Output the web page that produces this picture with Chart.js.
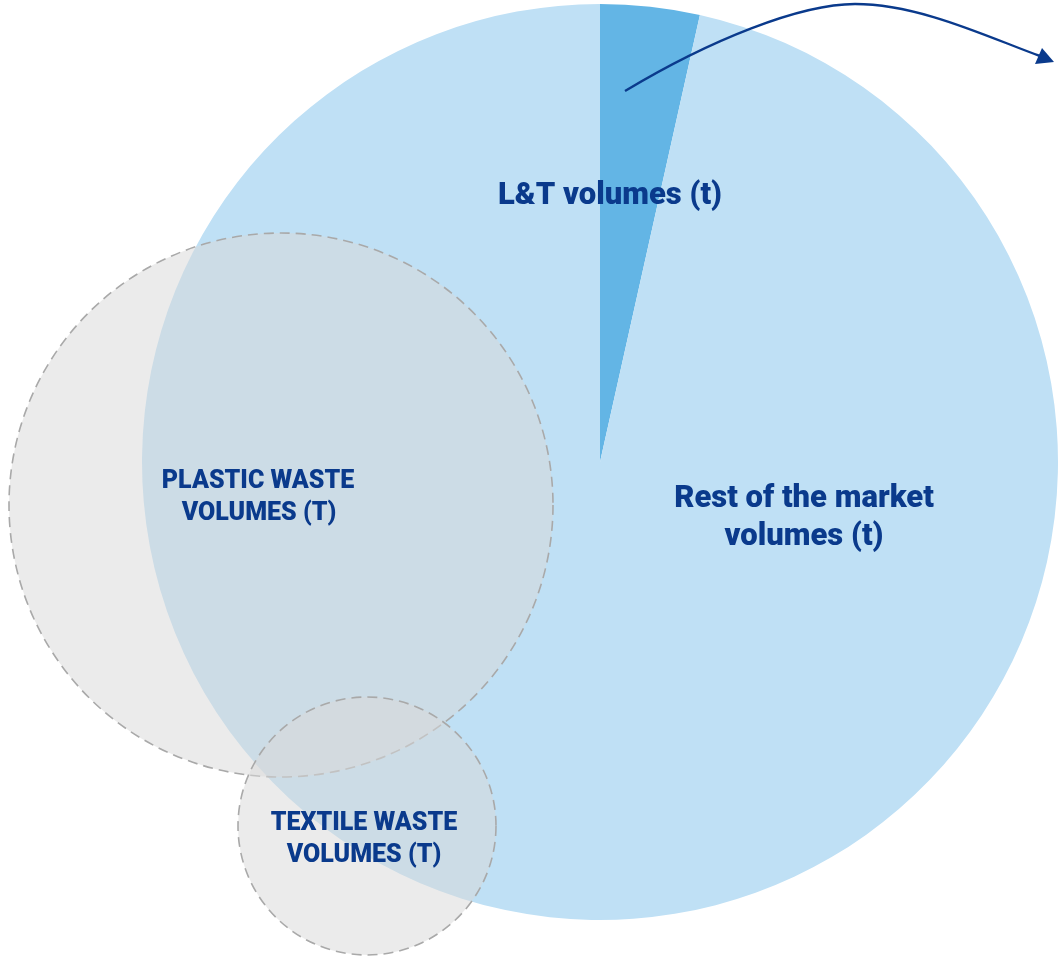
<!DOCTYPE html>
<html>
<head>
<meta charset="utf-8">
<script src="https://cdn.jsdelivr.net/npm/chart.js@4.4.1/dist/chart.umd.min.js"></script>
<style>
  html, body { margin: 0; padding: 0; background: #fff; }
  #wrap { width: 1058px; height: 959px; position: relative; }
</style>
</head>
<body>
<div id="wrap"><canvas id="marketPie" width="1058" height="959"></canvas></div>
<script>
// Market share - L&T vs rest of the market
const sliceLabels = ['L&T volumes (t)', 'Rest of the market volumes (t)'];
const sliceValues = [3.5, 96.5];
const sliceColors = ['#63b5e5', '#bfe0f5'];

// Overlapping waste streams (drawn as dashed circles on top)
const wasteLabels = [['PLASTIC WASTE', 'VOLUMES (T)'], ['TEXTILE WASTE', 'VOLUMES (T)']];

const NAVY = '#0a3a8c';

function font(size) { return '900 ' + size + 'px Roboto, "Liberation Sans", sans-serif'; }

const overlayPlugin = {
    id: 'overlay',
    afterDatasetsDraw(chart) {
        const ctx = chart.ctx;

        // dashed grey circles
        const circles = [
            { x: 281, y: 505, r: 272 },
            { x: 367, y: 826, r: 129 }
        ];
        circles.forEach(c => {
            ctx.save();
            ctx.beginPath();
            ctx.arc(c.x, c.y, c.r, 0, Math.PI * 2);
            ctx.fillStyle = 'rgba(216,216,216,0.52)';
            ctx.fill();
            ctx.setLineDash([10, 6]);
            ctx.lineWidth = 1.6;
            ctx.strokeStyle = '#a9a9a9';
            ctx.stroke();
            ctx.restore();
        });

        // text labels
        ctx.save();
        ctx.fillStyle = NAVY;
        ctx.textAlign = 'center';
        ctx.textBaseline = 'middle';

        ctx.font = font(31);
        ctx.fillText(sliceLabels[0], 610, 196);
        ctx.fillText('Rest of the market', 804, 499);
        ctx.fillText('volumes (t)', 804, 537);

        ctx.font = font(25);
        ctx.fillText(wasteLabels[0][0], 258, 482);
        ctx.fillText(wasteLabels[0][1], 259, 514);
        ctx.fillText(wasteLabels[1][0], 364, 824);
        ctx.fillText(wasteLabels[1][1], 364, 856);
        ctx.restore();

        // curved arrow
        ctx.save();
        ctx.strokeStyle = NAVY;
        ctx.fillStyle = NAVY;
        ctx.lineWidth = 2.4;
        ctx.beginPath();
        ctx.moveTo(625, 91);
        ctx.bezierCurveTo(710, 40, 800, 4, 855, 4);
        ctx.bezierCurveTo(920, 4, 990, 38, 1040, 56);
        ctx.stroke();
        ctx.beginPath();
        ctx.moveTo(1054, 62);
        ctx.lineTo(1035, 64);
        ctx.lineTo(1042, 48);
        ctx.closePath();
        ctx.fill();
        ctx.restore();
    }
};

const ctxPie = document.getElementById('marketPie').getContext('2d');
new Chart(ctxPie, {
    type: 'pie',
    data: {
        labels: sliceLabels,
        datasets: [{
            data: sliceValues,
            backgroundColor: sliceColors,
            borderWidth: 0
        }]
    },
    options: {
        responsive: false,
        animation: false,
        layout: { padding: { left: 142, right: 0, top: 3, bottom: 38 } },
        plugins: {
            legend: { display: false },
            tooltip: { enabled: false }
        }
    },
    plugins: [overlayPlugin]
});
</script>
</body>
</html>
